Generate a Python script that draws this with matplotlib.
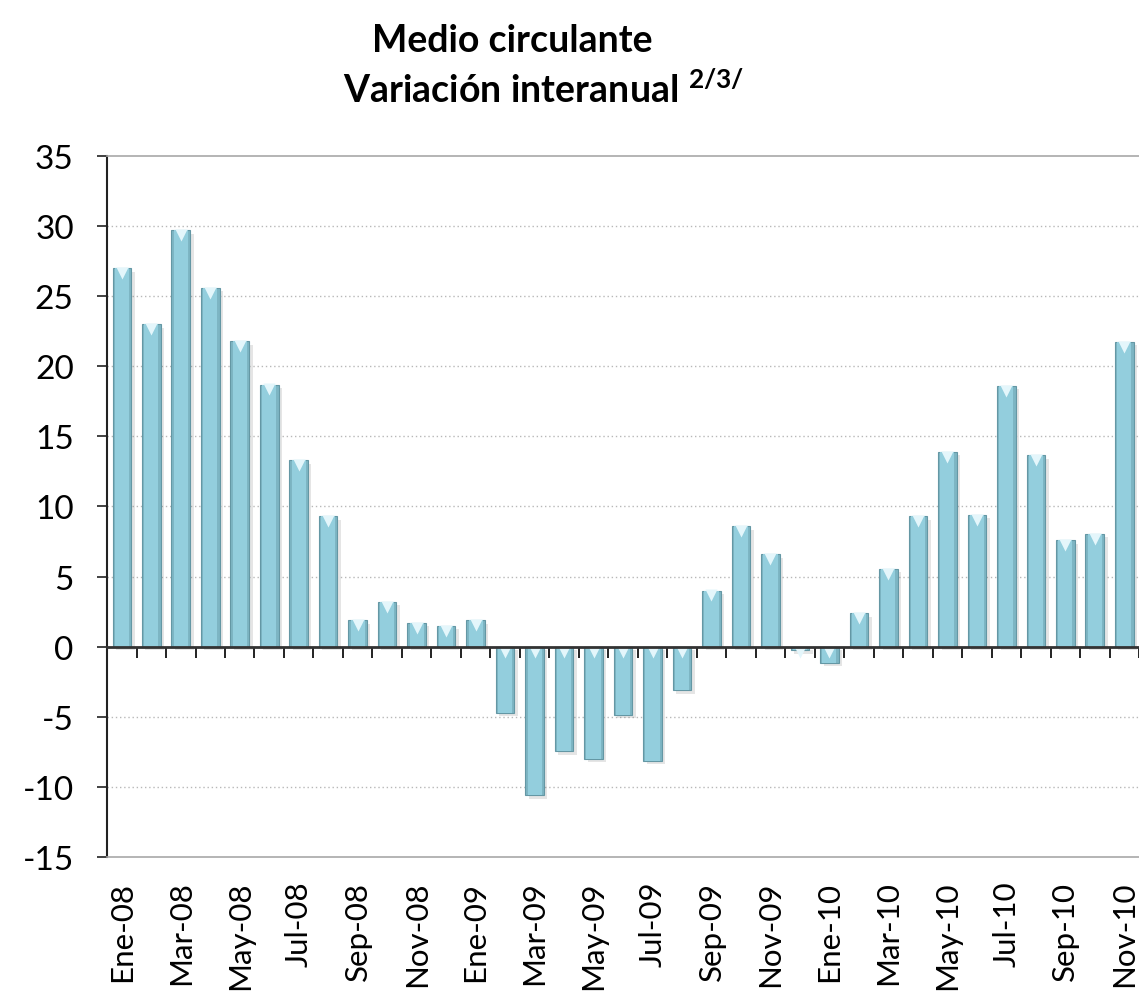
import matplotlib
matplotlib.use("Agg")
import matplotlib.pyplot as plt
import matplotlib.patheffects as pe
from matplotlib.transforms import offset_copy
import numpy as np

plt.rcParams['font.family'] = ['Lato', 'DejaVu Sans']
plt.rcParams['mathtext.fontset'] = 'custom'
plt.rcParams['mathtext.rm'] = 'Lato'
plt.rcParams['mathtext.bf'] = 'Lato:bold'

# Data: monthly year-on-year change, Ene-08 .. Nov-10
meses = ['Ene-08', 'Feb-08', 'Mar-08', 'Abr-08', 'May-08', 'Jun-08', 'Jul-08', 'Ago-08',
         'Sep-08', 'Oct-08', 'Nov-08', 'Dic-08', 'Ene-09', 'Feb-09', 'Mar-09', 'Abr-09',
         'May-09', 'Jun-09', 'Jul-09', 'Ago-09', 'Sep-09', 'Oct-09', 'Nov-09', 'Dic-09',
         'Ene-10', 'Feb-10', 'Mar-10', 'Abr-10', 'May-10', 'Jun-10', 'Jul-10', 'Ago-10',
         'Sep-10', 'Oct-10', 'Nov-10']
variacion = [27.0, 23.0, 29.7, 25.6, 21.8, 18.7, 13.3, 9.3,
             1.9, 3.2, 1.7, 1.5, 1.9, -4.7, -10.6, -7.45,
             -8.0, -4.85, -8.15, -3.1, 4.0, 8.6, 6.6, -0.25,
             -1.15, 2.4, 5.55, 9.3, 13.9, 9.4, 18.6, 13.65,
             7.6, 8.05, 21.75]
yticks = [-15, -10, -5, 0, 5, 10, 15, 20, 25, 30, 35]

x = np.arange(len(meses))
vals = np.array(variacion)

fig = plt.figure(figsize=(11.39, 9.95), dpi=100)
ax = fig.add_axes([0.094, 0.1377, 0.906, 0.7045])

# grid lines
for t in yticks[1:-1]:
    if t != 0:
        ax.axhline(t, color='#b8b8b8', lw=1, ls=(0, (1, 2)), zorder=0)

# bars: darker outer body + lighter core to mimic the bevel look
outer = ax.bar(x, vals, width=0.63, color='#7DB5C3', edgecolor='#6497A4', linewidth=0.8, zorder=2)
for b in outer:
    b.set_path_effects([pe.SimplePatchShadow(offset=(2.5, -2.5), alpha=0.15, shadow_rgbFace='#555555'),
                        pe.Normal()])
ax.bar(x, vals, width=0.48, color='#93CEDD', linewidth=0, zorder=3)

# little highlight triangles at the top of each bar
tops = np.maximum(vals, 0)
tri = offset_copy(ax.transData, fig=fig, x=0, y=-3.5, units='points')
ax.plot(x, tops, ls='none', marker='v', ms=9, color='#E4F6FB', mec='none', transform=tri, zorder=4)

ax.set_xlim(-0.5, len(meses) - 0.5)
ax.set_ylim(-15, 35)
ax.set_yticks(yticks)
ax.set_yticklabels([str(t) for t in yticks])

# category labels at the bottom, every other month
ax.set_xticks(x[::2])
ax.set_xticklabels(meses[::2], rotation=90)
ax.tick_params(axis='x', length=0, pad=17, labelsize=22.5)
ax.tick_params(axis='y', length=7, width=1.3, direction='out', pad=17, labelsize=24, color='#333333')

for s in ['top', 'bottom']:
    ax.spines[s].set_color('#a8a8a8')
    ax.spines[s].set_linewidth(1.2)
ax.spines['right'].set_visible(False)
ax.spines['left'].set_linestyle((0, (1, 1)))
ax.spines['left'].set_linewidth(1.5)
ax.spines['left'].set_color('#222222')

# zero axis with boundary tick marks
zero_ax = ax.secondary_xaxis(15 / 50)
zero_ax.set_xticks(np.arange(-0.5, len(meses), 1.0))
zero_ax.set_xticklabels([])
zero_ax.tick_params(length=8, width=1.4, direction='out', color='#222222')
zero_ax.spines['bottom'].set_linewidth(2)
zero_ax.spines['bottom'].set_color('#333333')
zero_ax.set_zorder(5)

fig.text(0.4495, 0.959, 'Medio circulante', fontsize=27, fontweight='bold', ha='center', va='center')
fig.text(0.301, 0.909, 'Variación interanual $^{\\mathbf{2/3/}}$', fontsize=27, fontweight='bold',
         ha='left', va='center')

fig.savefig('out.png', dpi=100)
